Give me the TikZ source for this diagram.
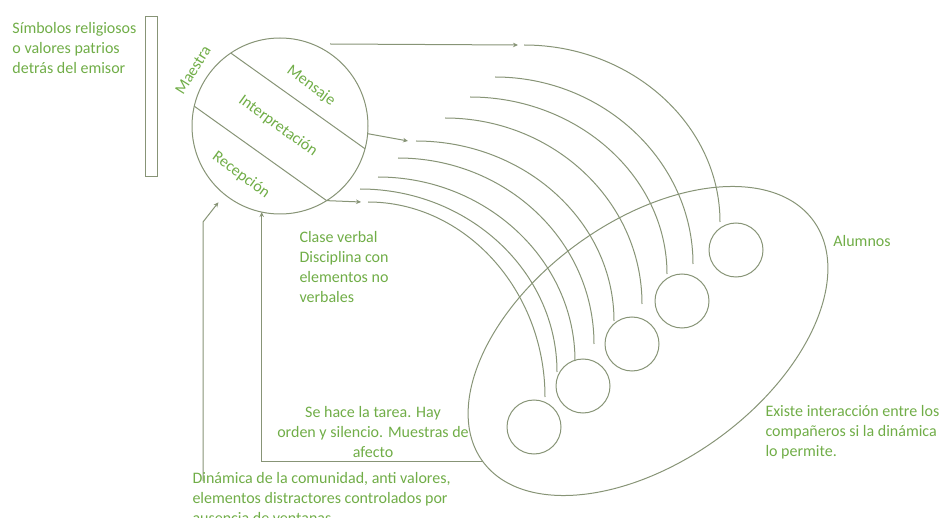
\documentclass[tikz,border=0pt]{standalone}
\usepackage{fontspec}
\setmainfont{Carlito}
\usetikzlibrary{shapes.geometric,arrows.meta}
\definecolor{verdetexto}{RGB}{112,173,71}
\definecolor{trazo}{RGB}{135,148,118}

\begin{document}
\begin{tikzpicture}[x=1pt, y=-1pt, line width=1pt,
    texto/.style={text=verdetexto, font=\fontsize{16}{20}\selectfont, inner sep=0pt},
    onda/.style={draw=trazo},
    flecha/.style={draw=trazo, -{Stealth[length=5pt, width=4.5pt]}},
    alumno/.style={circle, draw=trazo, minimum size=54, inner sep=0pt, outer sep=0pt}]
    \useasboundingbox (0,0) rectangle (942,518);

    % emisor
    \node[circle, draw=trazo, minimum size=176, inner sep=0pt, outer sep=0pt]
        (maestra) at (280,126) {};
    \draw[onda] (maestra.124) -- (maestra.-15);
    \draw[onda] (maestra.167) -- (maestra.-58);
    \node[texto, rotate=58] (nmaestra) at (193,70) {Maestra};
    \node[texto, rotate=-36] (mensaje) at (311,86) {Mensaje};
    \node[texto, rotate=-36] (interp) at (278,126) {Interpretación};
    \node[texto, rotate=-36] (recep) at (241,175) {Recepción};

    \node[draw=trazo, minimum width=12, minimum height=160, inner sep=0pt]
        (cuadro) at (151,97) {};
    \node[texto, align=left, anchor=north west]
        (simbolos) at (12,22) {Símbolos religiosos\\o valores patrios\\detrás del emisor};

    % alumnos
    \node[ellipse, draw=trazo, rotate=36, minimum width=409, minimum height=240,
        inner sep=0pt, outer sep=0pt] (grupo) at (648,341) {};
    \node[alumno] (a1) at (534,427) {};
    \node[alumno] (a2) at (583,386) {};
    \node[alumno] (a3) at (632,344) {};
    \node[alumno] (a4) at (682,301) {};
    \node[alumno] (a5) at (736,250) {};
    \node[texto] (alumnos) at (862,241) {Alumnos};
    \node[texto, align=left, anchor=north west]
        (existe) at (765,405) {Existe interacción entre los\\compañeros si la dinámica\\lo permite.};

    % ondas del mensaje
    \coordinate (o1) at (524,45);  \coordinate (e1) at (720,222);
    \coordinate (o2) at (495,77);  \coordinate (e2) at (693,264);
    \coordinate (o3) at (470,97);  \coordinate (e3) at (667,274);
    \coordinate (o4) at (445,118); \coordinate (e4) at (642,304);
    \coordinate (o5) at (416,141); \coordinate (e5) at (614,321);
    \coordinate (o6) at (398,158); \coordinate (e6) at (594,344);
    \coordinate (o7) at (378,177); \coordinate (e7) at (575,361);
    \coordinate (o8) at (360,189); \coordinate (e8) at (557,372);
    \coordinate (o9) at (368,202); \coordinate (e9) at (545,397);
    \draw[onda] (o1) .. controls +(108,0) and +(0,-97) .. (e1);
    \draw[onda] (o2) .. controls +(108,0) and +(0,-103) .. (e2);
    \draw[onda] (o3) .. controls +(108,0) and +(0,-97) .. (e3);
    \draw[onda] (o4) .. controls +(108,0) and +(0,-103) .. (e4);
    \draw[onda] (o5) .. controls +(109,0) and +(0,-99) .. (e5);
    \draw[onda] (o6) .. controls +(108,0) and +(0,-103) .. (e6);
    \draw[onda] (o7) .. controls +(108,0) and +(0,-101) .. (e7);
    \draw[onda] (o8) .. controls +(108,0) and +(0,-101) .. (e8);
    \draw[onda] (o9) .. controls +(97,0) and +(0,-107) .. (e9);

    % salida del emisor
    \coordinate (s1) at (330,44);
    \draw[flecha] (s1) -- ([xshift=-6]o1);
    \draw[flecha] (maestra.-5) -- ([xshift=-8]o5);
    \draw[flecha] (maestra.-58) -- ([xshift=-7]o9);

    \node[texto, align=left, anchor=north west]
        (clase) at (299,231) {Clase verbal\\Disciplina con\\elementos no\\verbales};

    % retroalimentacion
    \draw[flecha] (grupo.west) -| (maestra.258);
    \node[texto, align=center] (ntarea) at (373,432)
        {Se hace la tarea. Hay\\orden y silencio. Muestras de\\afecto};
    \coordinate (d0) at (203,481);
    \draw[flecha, shorten >=10] (d0) -- (203,222) -- (maestra.231);
    \node[texto, align=left, anchor=north west] (dinamica) at (192,472)
        {Dinámica de la comunidad, anti valores,\\elementos distractores controlados por\\ausencia de ventanas};
\end{tikzpicture}
\end{document}
